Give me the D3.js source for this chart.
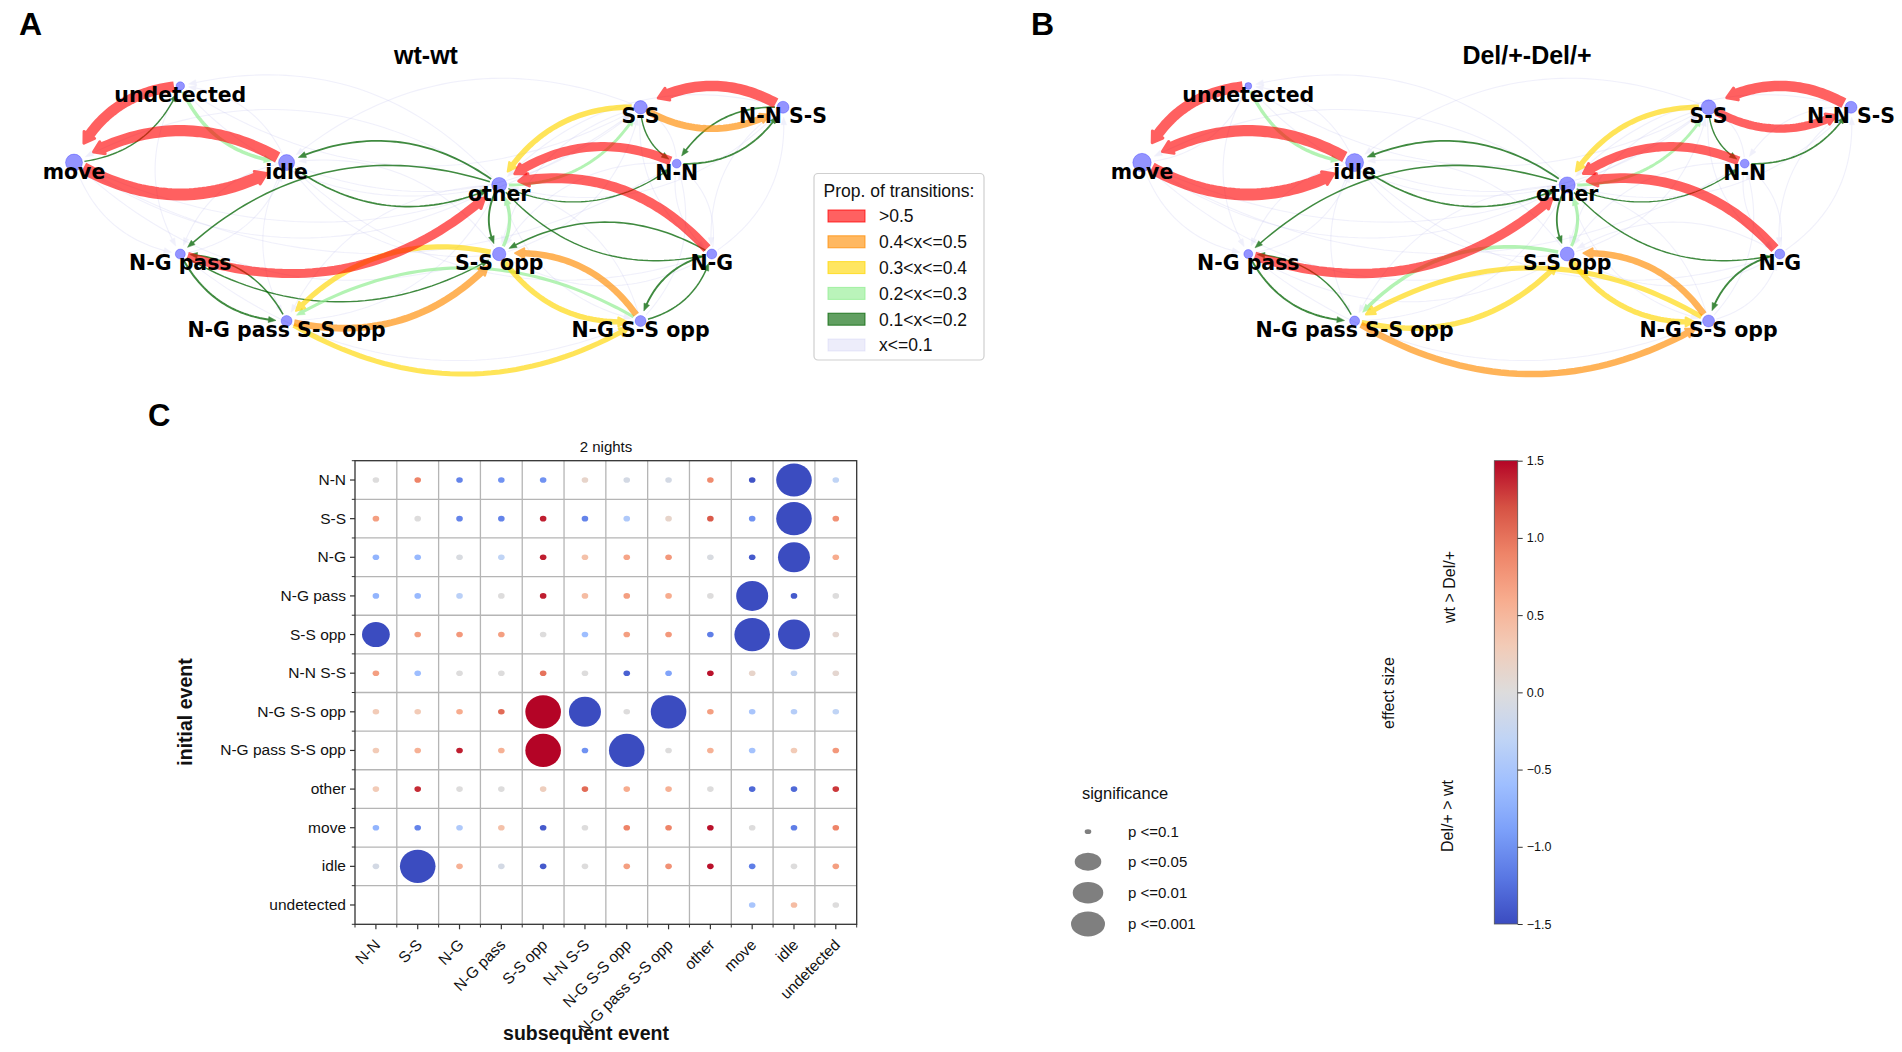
<!DOCTYPE html>
<html>
<head>
<meta charset="utf-8">
<script src="https://cdnjs.cloudflare.com/ajax/libs/d3/7.8.5/d3.min.js"></script>
<style>
	body { margin: 0; background: #fff; }
	text { font-family: "Liberation Sans", Arial, sans-serif; fill: #111; }
	.nlabel { font-family: "DejaVu Sans", sans-serif; font-weight: bold; font-size: 20.5px; fill: #000; }
	.letter { font-weight: bold; font-size: 32px; fill: #000; }
	.ntitle { font-weight: bold; font-size: 25px; fill: #000; }
</style>
</head>
<body>
<svg id="fig" width="1902" height="1052"></svg>
<script>

// ---------------- data: transition networks ----------------
var nodeNames  = ["undetected", "move", "idle", "other", "N-G pass", "S-S opp",
                  "N-G pass S-S opp", "S-S", "N-N S-S", "N-N", "N-G", "N-G S-S opp"];
// layout position of each node (spring-like layout units)
var nodeLayoutX = [1, 0, 2, 4, 1, 4, 2, 5.33, 6.67, 5.67, 6, 5.33];
var nodeLayoutY = [0, 0.72, 0.72, 0.93, 1.58, 1.58, 2.21, 0.2, 0.2, 0.73, 1.58, 2.21];
// relative occupancy of each event (node size)
var nodeWeightA = [18, 72, 64, 56, 25, 45, 30, 45, 36, 20, 25, 30];
var nodeWeightB = [12, 85, 81, 64, 20, 49, 25, 56, 36, 20, 25, 36];

// [from, to, proportion of transitions]
var edgesA = [
	["undetected", "move", 0.70], ["idle", "move", 0.75], ["move", "idle", 0.80],
	["N-N S-S", "S-S", 0.70], ["N-N", "other", 0.60], ["N-G", "other", 0.65],
	["N-G pass", "other", 0.60],
	["S-S", "N-N S-S", 0.45], ["N-G pass S-S opp", "S-S opp", 0.45], ["N-G S-S opp", "S-S opp", 0.42],
	["S-S", "other", 0.35], ["S-S opp", "N-G pass S-S opp", 0.33],
	["N-G pass S-S opp", "N-G S-S opp", 0.32], ["S-S opp", "N-G S-S opp", 0.34],
	["undetected", "idle", 0.25], ["other", "S-S", 0.22], ["S-S opp", "other", 0.24],
	["N-G S-S opp", "N-G pass S-S opp", 0.23],
	["move", "undetected", 0.12], ["other", "idle", 0.15], ["idle", "other", 0.14],
	["other", "N-G pass", 0.13], ["other", "S-S opp", 0.16], ["other", "N-G", 0.12],
	["N-G", "S-S opp", 0.13], ["other", "N-N", 0.11], ["N-N S-S", "N-N", 0.14],
	["N-N", "N-N S-S", 0.15], ["S-S", "N-N", 0.12], ["N-G", "N-G S-S opp", 0.16],
	["N-G S-S opp", "N-G", 0.13], ["N-G pass", "N-G pass S-S opp", 0.17],
	["N-G pass S-S opp", "N-G pass", 0.13], ["N-G pass", "S-S opp", 0.12]
];
var edgesB = [
	["undetected", "move", 0.70], ["idle", "move", 0.75], ["move", "idle", 0.80],
	["N-N S-S", "S-S", 0.70], ["S-S", "N-N S-S", 0.55], ["N-N", "other", 0.60],
	["N-G", "other", 0.65], ["N-G pass", "other", 0.62],
	["N-G S-S opp", "S-S opp", 0.42], ["N-G pass S-S opp", "N-G S-S opp", 0.42],
	["S-S", "other", 0.33], ["N-G S-S opp", "N-G pass S-S opp", 0.32],
	["N-G pass S-S opp", "S-S opp", 0.35], ["S-S opp", "N-G S-S opp", 0.34],
	["undetected", "idle", 0.24], ["other", "S-S", 0.22], ["S-S opp", "other", 0.23],
	["S-S opp", "N-G pass S-S opp", 0.25],
	["other", "idle", 0.15], ["idle", "other", 0.14], ["other", "N-G pass", 0.13],
	["other", "S-S opp", 0.15], ["other", "N-G", 0.12], ["other", "N-N", 0.11],
	["N-N", "N-N S-S", 0.14], ["S-S", "N-N", 0.12], ["N-G", "N-G S-S opp", 0.16],
	["N-G pass", "N-G pass S-S opp", 0.16], ["N-G pass S-S opp", "N-G pass", 0.12]
];
// rare transitions (x<=0.1), drawn in both networks unless listed above
var rarePairs = [
	["move", "other"], ["other", "move"], ["undetected", "other"], ["other", "undetected"],
	["idle", "N-G pass"], ["N-G pass", "idle"], ["move", "N-G pass"], ["idle", "S-S opp"],
	["S-S opp", "idle"], ["other", "N-G S-S opp"], ["N-G S-S opp", "other"],
	["other", "N-G pass S-S opp"], ["N-G pass S-S opp", "other"], ["idle", "S-S"],
	["S-S", "idle"], ["move", "S-S"], ["undetected", "S-S"], ["N-N", "S-S"],
	["N-N S-S", "other"], ["other", "N-N S-S"], ["N-G", "N-N"], ["N-N", "N-G"],
	["N-G", "N-N S-S"], ["N-N S-S", "N-G"], ["S-S opp", "N-G"], ["S-S", "S-S opp"],
	["S-S opp", "S-S"], ["N-N", "S-S opp"], ["N-G pass", "N-G S-S opp"],
	["idle", "N-G pass S-S opp"], ["undetected", "N-G pass"], ["move", "S-S opp"],
	["N-G S-S opp", "N-N"], ["S-S", "N-G"], ["idle", "undetected"], ["move", "N-N"],
	["idle", "N-G"], ["N-G", "S-S opp"], ["N-N S-S", "N-N"], ["move", "undetected"],
	["N-G S-S opp", "N-G"], ["N-G pass", "S-S opp"]
];
var rareValue = 0.05;

var legendValues = [0.6, 0.45, 0.35, 0.25, 0.15, 0.05];
var legendLabels = [">0.5", "0.4<x<=0.5", "0.3<x<=0.4", "0.2<x<=0.3", "0.1<x<=0.2", "x<=0.1"];

// ---------------- data: effect size matrix (panel C) ----------------
var eventLabels = ["N-N", "S-S", "N-G", "N-G pass", "S-S opp", "N-N S-S", "N-G S-S opp",
                   "N-G pass S-S opp", "other", "move", "idle", "undetected"];
// rows = initial event, columns = subsequent event
var effectSize = [
	[ 0.0,  0.9, -1.1, -1.0, -1.0,  0.15, -0.1, -0.1,  0.85, -1.45, -1.6, -0.3],
	[ 0.7,  0.0, -1.1, -1.1,  1.4, -1.1, -0.45, 0.15,  1.15, -1.0, -1.6,  0.8],
	[-0.7, -0.65,-0.05,-0.3,  1.4,  0.4,  0.65, 0.75, -0.05, -1.4, -1.6,  0.6],
	[-0.7, -0.65,-0.35, 0.0,  1.4,  0.45, 0.7,  0.6,   0.0, -1.6, -1.4,  0.0],
	[-1.6,  0.7,  0.75, 0.7,  0.0, -0.6,  0.7,  0.75, -1.15, -1.6, -1.6,  0.1],
	[ 0.7, -0.6,  0.0,  0.0,  1.0,  0.0, -1.35,-0.85,  1.45,  0.15, -0.3, 0.1],
	[ 0.3,  0.3,  0.6,  1.05, 1.6, -1.6,  0.0, -1.6,   0.7, -0.5, -0.4, -0.3],
	[ 0.3,  0.55, 1.4,  0.55, 1.6, -1.0, -1.6,  0.0,   0.55, -0.55, 0.3, 0.75],
	[ 0.3,  1.35, 0.0,  0.0,  0.25, 1.05, 0.6,  0.55,  0.0, -1.3, -1.3,  1.3],
	[-0.7, -1.1, -0.45, 0.4, -1.4,  0.0,  0.9,  0.9,   1.45, 0.0, -1.15, 0.9],
	[-0.1, -1.6,  0.55,-0.1, -1.4,  0.0,  0.7,  0.8,   1.45,-1.15, 0.0,  0.7],
	[null, null, null, null, null, null, null, null, null, -0.5, 0.45, 0.0]
];
// 0: n.s./p<=0.1, 1: p<=0.05, 2: p<=0.01, 3: p<=0.001
var significance = [
	[0,0,0,0,0,0,0,0,0,0,3,0],
	[0,0,0,0,0,0,0,0,0,0,3,0],
	[0,0,0,0,0,0,0,0,0,0,2,0],
	[0,0,0,0,0,0,0,0,0,2,0,0],
	[1,0,0,0,0,0,0,0,0,3,2,0],
	[0,0,0,0,0,0,0,0,0,0,0,0],
	[0,0,0,0,3,2,0,3,0,0,0,0],
	[0,0,0,0,3,0,3,0,0,0,0,0],
	[0,0,0,0,0,0,0,0,0,0,0,0],
	[0,0,0,0,0,0,0,0,0,0,0,0],
	[0,3,0,0,0,0,0,0,0,0,0,0],
	[0,0,0,0,0,0,0,0,0,0,0,0]
];
var sigLabels = ["p <=0.1", "p <=0.05", "p <=0.01", "p <=0.001"];
var colorbarTicks = [-1.5, -1.0, -0.5, 0.0, 0.5, 1.0, 1.5];

// ---------------- scales ----------------
var svg = d3.select("#fig");

var edgeColor = d3.scaleThreshold().domain([0.1, 0.2, 0.3, 0.4, 0.5])
	.range(["#c4c4f0", "darkgreen", "lightgreen", "gold", "darkorange", "red"]);
var edgeAlpha = d3.scaleThreshold().domain([0.1, 0.2, 0.3, 0.4, 0.5])
	.range([0.25, 0.75, 0.68, 0.65, 0.65, 0.62]);
var edgeWidth = d3.scaleLinear().domain([0, 0.1, 0.2, 0.3, 0.5, 0.8])
	.range([0.9, 1.2, 2.4, 4.8, 7.6, 12]);
var nodeRadius = d3.scaleSqrt().domain([0, 100]).range([0, 10]);
var netY = d3.scaleLinear().domain([0, 2.21]).range([86, 321]);

var coolwarm = d3.piecewise(d3.interpolateRgb, ["#3b4cc0", "#5977e3", "#7b9ff9", "#9ebeff", "#c0d4f5",
	"#dddcdc", "#f2cbb7", "#f7ac8e", "#ee8468", "#d65244", "#b40426"]);
var effectColor = d3.scaleSequential(coolwarm).domain([-1.5, 1.5]).clamp(true);

function dist(a, b) { return Math.hypot(a[0] - b[0], a[1] - b[1]); }

// ---------------- network drawing ----------------
function drawNetwork(edges, weights, xScale) {
	var g = svg.append("g");
	var pos = nodeNames.map(function(n, i) { return [xScale(nodeLayoutX[i]), netY(nodeLayoutY[i])]; });
	var rad = weights.map(function(w) { return nodeRadius(w); });
	var idx = function(n) { return nodeNames.indexOf(n); };

	var have = {};
	edges.forEach(function(e) { have[e[0] + "|" + e[1]] = true; });
	var all = rarePairs.filter(function(p) { return !have[p[0] + "|" + p[1]]; })
		.map(function(p) { return [p[0], p[1], rareValue]; })
		.concat(edges.slice().sort(function(a, b) { return a[2] - b[2]; }));

	var line = d3.line();
	all.forEach(function(e) {
		var s = idx(e[0]), t = idx(e[1]), v = e[2];
		var p0 = pos[s], p2 = pos[t];
		var dx = p2[0] - p0[0], dy = p2[1] - p0[1];
		// arc3 style bend, rad = 0.3
		var c = [(p0[0] + p2[0]) / 2 - 0.3 * dy, (p0[1] + p2[1]) / 2 + 0.3 * dx];
		var q = function(u) {
			var a = (1 - u) * (1 - u), b = 2 * u * (1 - u), d = u * u;
			return [a * p0[0] + b * c[0] + d * p2[0], a * p0[1] + b * c[1] + d * p2[1]];
		};
		var w = edgeWidth(v);
		var startGap = rad[s] + 2, tipGap = rad[t] + 3 + w * 0.95;
		var headLen = 7 + w * 0.25, headW = 4.5 + w * 0.75;
		var t0 = 0; while (t0 < 0.5 && dist(q(t0), p0) < startGap) t0 += 0.002;
		var t1 = 1; while (t1 > 0.5 && dist(q(t1), p2) < tipGap) t1 -= 0.002;
		var tip = q(t1);
		var t2 = t1; while (t2 > t0 && dist(q(t2), tip) < headLen) t2 -= 0.002;
		var base = q(t2);
		var ux = (tip[0] - base[0]) / headLen, uy = (tip[1] - base[1]) / headLen;
		var pts = d3.range(0, 41).map(function(k) { return q(t0 + (t2 + (t1 - t2) * 0.3 - t0) * k / 40); });

		var eg = g.append("g").attr("opacity", edgeAlpha(v));
		eg.append("path").attr("d", line(pts)).attr("fill", "none")
			.attr("stroke", edgeColor(v)).attr("stroke-width", w);
		eg.append("path")
			.attr("d", "M" + tip + "L" + [base[0] - uy * headW / 2, base[1] + ux * headW / 2] +
				"L" + [base[0] + uy * headW / 2, base[1] - ux * headW / 2] + "Z")
			.attr("fill", edgeColor(v)).attr("stroke", edgeColor(v))
			.attr("stroke-width", v > 0.5 ? 3 : (v > 0.3 ? 2 : 0.5)).attr("stroke-linejoin", "round");
	});

	g.selectAll("circle.node").data(nodeNames).enter().append("circle")
		.attr("class", "node")
		.attr("cx", function(d, i) { return pos[i][0]; })
		.attr("cy", function(d, i) { return pos[i][1]; })
		.attr("r", function(d, i) { return rad[i]; })
		.attr("fill", "blue").attr("fill-opacity", 0.42)
		.attr("stroke", "blue").attr("stroke-opacity", 0.25);

	g.selectAll("text.nlabel").data(nodeNames).enter().append("text")
		.attr("class", "nlabel")
		.attr("x", function(d, i) { return pos[i][0]; })
		.attr("y", function(d, i) { return pos[i][1] + 16; })
		.attr("text-anchor", "middle")
		.text(function(d) { return d; });
}

drawNetwork(edgesA, nodeWeightA, d3.scaleLinear().domain([0, 6.67]).range([74, 783]));
drawNetwork(edgesB, nodeWeightB, d3.scaleLinear().domain([0, 6.67]).range([1142, 1851]));

// panel letters and titles
svg.append("text").attr("class", "letter").attr("x", 19).attr("y", 35).text("A");
svg.append("text").attr("class", "letter").attr("x", 1031).attr("y", 35).text("B");
svg.append("text").attr("class", "letter").attr("x", 148).attr("y", 426).style("font-size", "31px").text("C");
svg.append("text").attr("class", "ntitle").attr("x", 426).attr("y", 64).attr("text-anchor", "middle").text("wt-wt");
svg.append("text").attr("class", "ntitle").attr("x", 1527).attr("y", 64).attr("text-anchor", "middle").text("Del/+-Del/+");

// transition legend
var leg = svg.append("g");
leg.append("rect").attr("x", 814).attr("y", 173.5).attr("width", 170).attr("height", 186.5)
	.attr("rx", 4).attr("fill", "#fff").attr("stroke", "#cfcfcf").attr("stroke-width", 1.2);
leg.append("text").attr("x", 899).attr("y", 197).attr("text-anchor", "middle")
	.style("font-size", "17.5px").text("Prop. of transitions:");
legendValues.forEach(function(v, i) {
	var y = 216 + i * 25.8;
	leg.append("rect").attr("x", 828).attr("y", y - 6).attr("width", 37).attr("height", 12)
		.attr("fill", edgeColor(v)).attr("fill-opacity", v < 0.1 ? 0.3 : 0.62)
		.attr("stroke", edgeColor(v)).attr("stroke-opacity", v < 0.1 ? 0.35 : 0.75);
	leg.append("text").attr("x", 879).attr("y", y).attr("dy", "0.36em")
		.style("font-size", "17.5px").text(legendLabels[i]);
});

// ---------------- panel C: dot matrix ----------------
var mx = d3.scaleBand().domain(eventLabels).range([355, 856.7]);
var my = d3.scaleBand().domain(eventLabels).range([460.7, 924.3]);
var bw = mx.bandwidth(), bh = my.bandwidth();
var sigRx = [3.3, 13.9, 16, 17.8], sigRy = [2.8, 12.5, 15, 16.6];

var mg = svg.append("g");
// grid
mg.selectAll("line.gx").data(d3.range(1, 12)).enter().append("line")
	.attr("x1", function(k) { return 355 + k * bw; }).attr("x2", function(k) { return 355 + k * bw; })
	.attr("y1", 460.7).attr("y2", 924.3).attr("stroke", "#b5b5b5").attr("stroke-width", 1.3);
mg.selectAll("line.gy").data(d3.range(1, 12)).enter().append("line")
	.attr("y1", function(k) { return 460.7 + k * bh; }).attr("y2", function(k) { return 460.7 + k * bh; })
	.attr("x1", 355).attr("x2", 856.7).attr("stroke", "#b5b5b5").attr("stroke-width", 1.3);

var cells = [];
effectSize.forEach(function(row, r) {
	row.forEach(function(v, c) {
		if (v !== null) cells.push({ r: r, c: c, v: v, s: significance[r][c] });
	});
});
mg.selectAll("ellipse.cell").data(cells).enter().append("ellipse")
	.attr("cx", function(d) { return mx(eventLabels[d.c]) + bw / 2; })
	.attr("cy", function(d) { return my(eventLabels[d.r]) + bh / 2; })
	.attr("rx", function(d) { return sigRx[d.s]; })
	.attr("ry", function(d) { return sigRy[d.s]; })
	.attr("fill", function(d) { return effectColor(d.v); });

// axes
var yAxis = mg.append("g").attr("transform", "translate(355,0)")
	.call(d3.axisLeft(my).tickSize(5).tickPadding(4));
var xAxis = mg.append("g").attr("transform", "translate(0,924.3)")
	.call(d3.axisBottom(mx).tickSize(5).tickPadding(4));
[yAxis, xAxis].forEach(function(a) {
	a.select(".domain").remove();
	a.attr("font-family", "Liberation Sans, Arial, sans-serif").attr("font-size", 15.5);
	a.selectAll("line").attr("stroke", "#333").attr("stroke-width", 1.2);
	a.selectAll("text").attr("fill", "#111");
});
xAxis.selectAll("text").attr("x", -11.5).attr("y", 13.5).attr("dy", "0.35em")
	.attr("transform", "rotate(-45)").style("text-anchor", "end");
// minor ticks at cell borders
mg.selectAll("line.mtx").data(d3.range(0, 13)).enter().append("line")
	.attr("x1", function(k) { return 355 + k * bw; }).attr("x2", function(k) { return 355 + k * bw; })
	.attr("y1", 924.3).attr("y2", 927.5).attr("stroke", "#333");
mg.selectAll("line.mty").data(d3.range(0, 13)).enter().append("line")
	.attr("y1", function(k) { return 460.7 + k * bh; }).attr("y2", function(k) { return 460.7 + k * bh; })
	.attr("x1", 355).attr("x2", 351.8).attr("stroke", "#333");
mg.append("rect").attr("x", 355).attr("y", 460.7).attr("width", 501.7).attr("height", 463.6)
	.attr("fill", "none").attr("stroke", "#333").attr("stroke-width", 1.3);

mg.append("text").attr("x", 606).attr("y", 452).attr("text-anchor", "middle")
	.style("font-size", "15px").text("2 nights");
mg.append("text").attr("transform", "translate(192,712) rotate(-90)").attr("text-anchor", "middle")
	.style("font-size", "19.5px").style("font-weight", "bold").text("initial event");
mg.append("text").attr("x", 586).attr("y", 1040).attr("text-anchor", "middle")
	.style("font-size", "19.5px").style("font-weight", "bold").text("subsequent event");

// significance legend
var sg = svg.append("g");
sg.append("text").attr("x", 1125).attr("y", 799).attr("text-anchor", "middle")
	.style("font-size", "16.5px").text("significance");
var legRx = [3.3, 13.3, 15.3, 17], legRy = [2.4, 9, 10.8, 12.5];
sigLabels.forEach(function(lab, i) {
	var y = [831.7, 861.7, 892.7, 924][i];
	sg.append("ellipse").attr("cx", 1088).attr("cy", y).attr("rx", legRx[i]).attr("ry", legRy[i])
		.attr("fill", "#7f7f7f");
	sg.append("text").attr("x", 1128).attr("y", y).attr("dy", "0.36em")
		.style("font-size", "15px").text(lab);
});

// colorbar
var cbY = d3.scaleLinear().domain([-1.5, 1.5]).range([924, 460.7]);
var grad = svg.append("defs").append("linearGradient").attr("id", "cbgrad")
	.attr("x1", 0).attr("y1", 1).attr("x2", 0).attr("y2", 0);
d3.range(0, 21).forEach(function(k) {
	grad.append("stop").attr("offset", (k / 20)).attr("stop-color", effectColor(-1.5 + 3 * k / 20));
});
var cb = svg.append("g");
cb.append("rect").attr("x", 1494.3).attr("y", 460.7).attr("width", 23.4).attr("height", 463.3)
	.attr("fill", "url(#cbgrad)").attr("stroke", "#555").attr("stroke-width", 0.8);
var cbAxis = cb.append("g").attr("transform", "translate(1517.7,0)")
	.call(d3.axisRight(cbY).tickValues(colorbarTicks).tickSize(5).tickPadding(4).tickFormat(d3.format(".1f")));
cbAxis.select(".domain").remove();
cbAxis.attr("font-family", "Liberation Sans, Arial, sans-serif").attr("font-size", 12.5);
cbAxis.selectAll("line").attr("stroke", "#333");
cbAxis.selectAll("text").attr("fill", "#222");

cb.append("text").attr("transform", "translate(1455,587) rotate(-90)").attr("text-anchor", "middle")
	.style("font-size", "16px").text("wt > Del/+");
cb.append("text").attr("transform", "translate(1453,816) rotate(-90)").attr("text-anchor", "middle")
	.style("font-size", "16px").text("Del/+ > wt");
cb.append("text").attr("transform", "translate(1394,693) rotate(-90)").attr("text-anchor", "middle")
	.style("font-size", "16px").text("effect size");

</script>
</body>
</html>
